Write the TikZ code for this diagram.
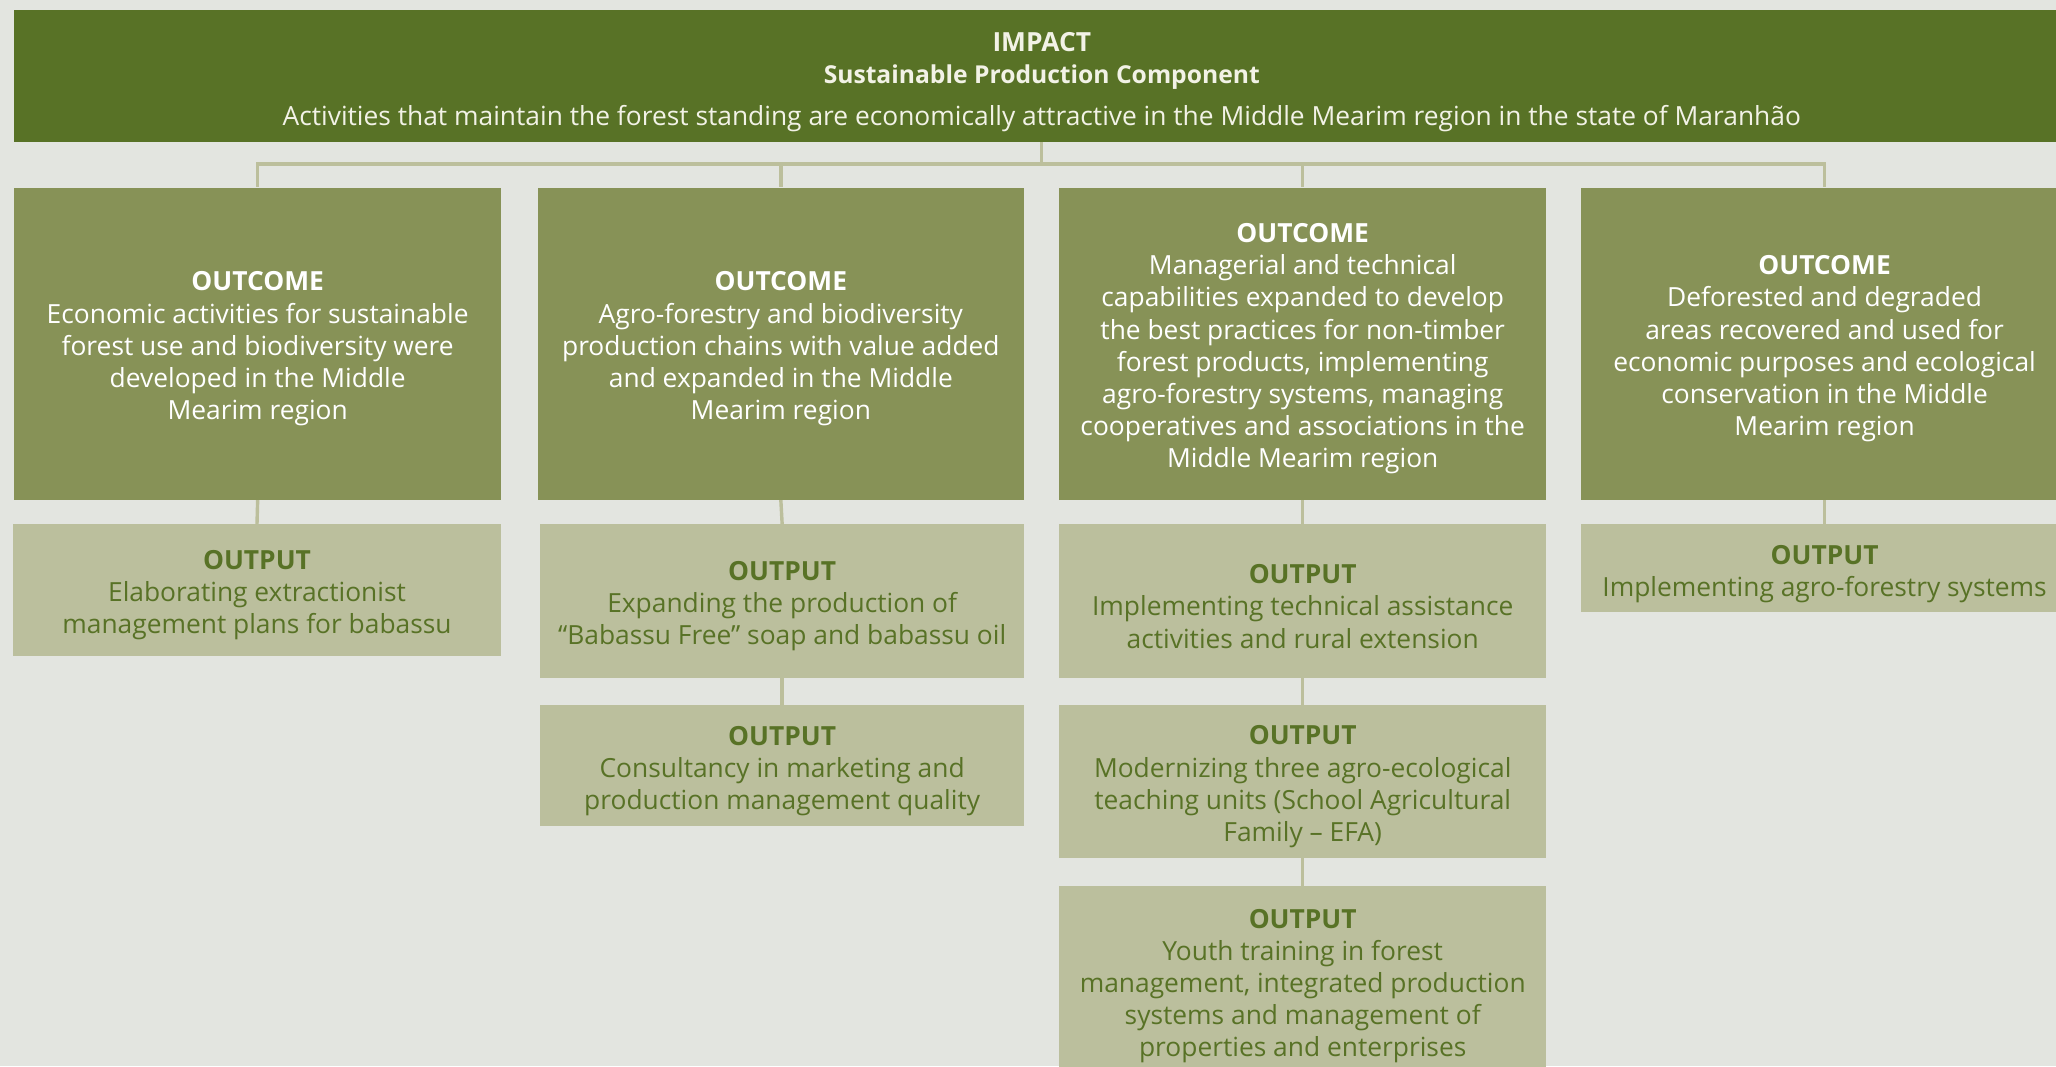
\documentclass[tikz,border=0pt]{standalone}
\usepackage{fontspec}
\setmainfont{Open Sans}
\definecolor{bgc}{HTML}{E3E5E0}
\definecolor{impc}{HTML}{587226}
\definecolor{outcc}{HTML}{879257}
\definecolor{outpc}{HTML}{BBBF9D}
\definecolor{outtxt}{HTML}{587226}
\definecolor{connc}{HTML}{BCBF9C}
\definecolor{imptxt}{HTML}{F2F2E6}
\tikzset{
  box/.style={rectangle, inner sep=0pt},
  txt/.style={inner sep=0pt, align=center, font=\fontsize{10.05pt}{12.25pt}\selectfont},
  impactbox/.style={box, fill=impc, minimum width=783.5pt, minimum height=50pt},
  outcomebox/.style={box, fill=outcc, minimum width=185.5pt, minimum height=119pt},
  outputbox/.style={box, fill=outpc, minimum width=185.5pt},
  imptext/.style={txt, text=imptxt},
  outctext/.style={txt, text=white},
  outptext/.style={txt, text=outtxt},
  conn/.style={draw=connc, line width=1.3pt, line join=miter}
}
\begin{document}
\begin{tikzpicture}[x=0.5pt,y=-0.5pt]
\useasboundingbox (0,0) rectangle (1568,813);
\fill[bgc] (0,0) rectangle (1568,813);

% boxes
\node[impactbox] (imp) at (794.5,58) {};
\node[outcomebox] (o1) at (196.5,262) {};
\node[outcomebox] (o2) at (595.5,262) {};
\node[outcomebox] (o3) at (993.5,262) {};
\node[outcomebox] (o4) at (1391.5,262) {};
\node[outputbox, minimum width=186pt, minimum height=50pt] (p1) at (196,450) {};
\node[outputbox, minimum width=184.5pt, minimum height=58.5pt] (p2a) at (596.5,458.5) {};
\node[outputbox, minimum width=184.5pt, minimum height=46pt] (p2b) at (596.5,584) {};
\node[outputbox, minimum height=58.5pt] (p3a) at (993.5,458.5) {};
\node[outputbox, minimum height=58pt] (p3b) at (993.5,596) {};
\node[outputbox, minimum height=72pt] (p3c) at (993.5,748) {};
\node[outputbox, minimum height=33.5pt] (p4) at (1391.5,433.5) {};

% texts
\node[imptext] (impt) at ([yshift=-2.3pt]imp.center) {\textbf{IMPACT}\\{\fontsize{9.4pt}{12.25pt}\selectfont\textbf{Sustainable Production Component}}\\[4pt]Activities that maintain the forest standing are economically attractive in the Middle Mearim region in the state of Maranhão};

\node[outctext] (o1t) at ([yshift=-2pt]o1.center) {\textbf{OUTCOME}\\Economic activities for sustainable\\forest use and biodiversity were\\developed in the Middle\\Mearim region};
\node[outctext] (o2t) at ([yshift=-2pt]o2.center) {\textbf{OUTCOME}\\Agro-forestry and biodiversity\\production chains with value added\\and expanded in the Middle\\Mearim region};
\node[outctext] (o3t) at ([yshift=-2pt]o3.center) {\textbf{OUTCOME}\\Managerial and technical\\capabilities expanded to develop\\the best practices for non-timber\\forest products, implementing\\agro-forestry systems, managing\\cooperatives and associations in the\\Middle Mearim region};
\node[outctext] (o4t) at ([yshift=-2pt]o4.center) {\textbf{OUTCOME}\\Deforested and degraded\\areas recovered and used for\\economic purposes and ecological\\conservation in the Middle\\Mearim region};

\node[outptext] (p1t) at ([yshift=-2pt]p1.center) {\textbf{OUTPUT}\\Elaborating extractionist\\management plans for babassu};
\node[outptext] (p2at) at ([yshift=-2pt]p2a.center) {\textbf{OUTPUT}\\Expanding the production of\\“Babassu Free” soap and babassu oil};
\node[outptext] (p2bt) at ([yshift=-2pt]p2b.center) {\textbf{OUTPUT}\\Consultancy in marketing and\\production management quality};
\node[outptext] (p3at) at ([yshift=-2pt]p3a.center) {\textbf{OUTPUT}\\Implementing technical assistance\\activities and rural extension};
\node[outptext] (p3bt) at ([yshift=-2pt]p3b.center) {\textbf{OUTPUT}\\Modernizing three agro-ecological\\teaching units (School Agricultural\\Family – EFA)};
\node[outptext] (p3ct) at ([yshift=-2pt]p3c.center) {\textbf{OUTPUT}\\Youth training in forest\\management, integrated production\\systems and management of\\properties and enterprises};
\node[outptext] (p4t) at ([yshift=-2.3pt]p4.center) {\textbf{OUTPUT}\\Implementing agro-forestry systems};

% connectors
\coordinate (bus) at (794.5,125);
\draw[conn] (imp.south) -- (bus);
\draw[conn] (o1.north) |- (bus) -| (o4.north);
\draw[conn] (o2.north) -- (o2.north |- bus);
\draw[conn] (o3.north) -- (o3.north |- bus);

\draw[conn] (o1.south) -- (p1.north);
\draw[conn] (o2.south) -- (p2a.north);
\draw[conn] (p2a.south) -- (p2b.north);
\draw[conn] (o3.south) -- (p3a.north);
\draw[conn] (p3a.south) -- (p3b.north);
\draw[conn] (p3b.south) -- (p3c.north);
\draw[conn] (o4.south) -- (p4.north);
\end{tikzpicture}
\end{document}
